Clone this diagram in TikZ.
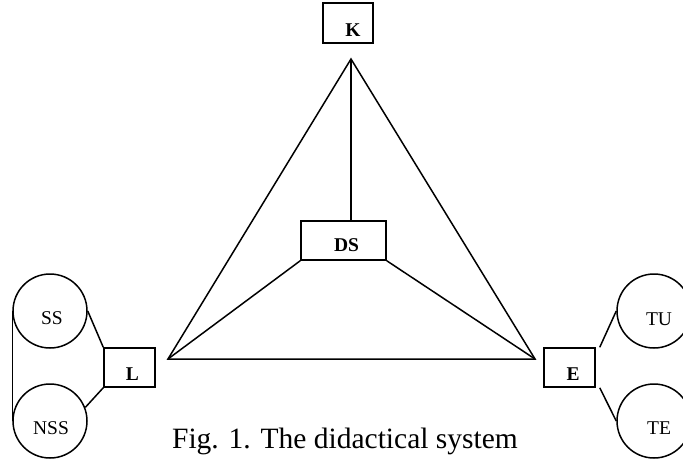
\documentclass[tikz,border=0pt]{standalone}
\usepackage{fontspec}
\setmainfont{Liberation Serif}
\begin{document}
\begin{tikzpicture}[x=1pt,y=-1pt,
  box/.style={draw, line width=1.5pt, rectangle, inner sep=0pt},
  circ/.style={draw, line width=1.5pt, circle, inner sep=0pt, minimum size=74pt},
  blbl/.style={font=\fontsize{19.5}{20}\selectfont\bfseries, inner sep=0pt},
  clbl/.style={font=\fontsize{19.5}{20}\selectfont, inner sep=0pt},
  link/.style={draw, line width=1.5pt}]
\useasboundingbox (0,0) rectangle (683,461);
\clip (0,0) rectangle (683,461);
% boxes
\node[box, minimum width=50pt, minimum height=40pt] (K) at (348,23) {};
\node[box, minimum width=85pt, minimum height=39pt] (DS) at (343.5,240.5) {};
\node[box, minimum width=51pt, minimum height=39pt] (L) at (129.5,367.5) {};
\node[box, minimum width=51pt, minimum height=39pt] (E) at (569.5,367.5) {};
\node[blbl] (Kt) at (353,30) {K};
\node[blbl] (DSt) at (346.5,245) {DS};
\node[blbl] (Lt) at (132.5,374) {L};
\node[blbl] (Et) at (573,374) {E};
% circles
\node[circ] (SS) at (50,311) {};
\node[circ] (NSS) at (50,421) {};
\node[circ] (TU) at (654,311) {};
\node[circ] (TE) at (654,421) {};
\node[clbl] (SSt) at (52,318) {SS};
\node[clbl] (NSSt) at (51,428) {NSS};
\node[clbl] (TUt) at (659,319) {TU};
\node[clbl] (TEt) at (659,428) {TE};
% triangle
\coordinate (A) at (351,59);
\coordinate (BL) at (168,359);
\coordinate (BR) at (535,359);
\draw[link] (A) -- (BL) -- (BR) -- cycle;
\draw[link] (A) -- (A |- DS.north);
\draw[link] (DS.south west) -- (BL);
\draw[link] (DS.south east) -- (BR);
% side links
\draw[link] (SS.west) -- (NSS.west);
\draw[link] (SS.east) -- (L.north west);
\draw[link] (NSS.21) -- (L.south west);
\draw[link] ([xshift=4pt]E.north east) -- (TU.west);
\draw[link] ([xshift=4pt]E.south east) -- (TE.west);
% caption
\node[font=\fontsize{29.5}{30}\selectfont, anchor=base, inner sep=0pt] (cap) at (345,448) {Fig. 1. The didactical system};
\end{tikzpicture}
\end{document}
